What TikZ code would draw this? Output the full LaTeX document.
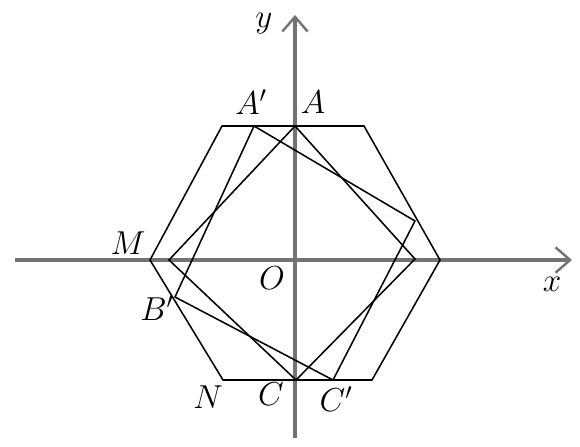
\documentclass[tikz,border=0pt]{standalone}
\usetikzlibrary{arrows.meta}
\begin{document}
\begin{tikzpicture}[x=0.75pt,y=-0.75pt,
  axis/.style={draw=black!55,line width=2.4pt,-{Straight Barb[length=11pt,width=19pt,line width=1.8pt]}},
  edge/.style={draw=black,line width=1.15pt,line join=miter},
  lbl/.style={font=\fontsize{23}{25}\selectfont,inner sep=0pt}]
\useasboundingbox (0,0) rectangle (580,446);
% axis ends
\coordinate (xs) at (15,260);
\coordinate (xe) at (572,260);
\coordinate (ys) at (295,438);
\coordinate (ye) at (295,15);
\draw[axis] (xs) -- (xe);
\draw[axis] (ys) -- (ye);
% hexagon
\coordinate (M) at (150,260);
\coordinate (TL) at (222,126);
\coordinate (TR) at (364,126);
\coordinate (R) at (440,260);
\coordinate (BR) at (372,380);
\coordinate (N) at (223,380);
\draw[edge] (M) -- (TL) -- (TR) -- (R) -- (BR) -- (N) -- cycle;
% square ACLR
\coordinate (A) at (295,126);
\coordinate (Rq) at (415,259);
\coordinate (C) at (296,380);
\coordinate (Lq) at (169,260);
\draw[edge] (A) -- (Rq) -- (C) -- (Lq) -- cycle;
% rotated square
\coordinate (A1) at (254,126);
\coordinate (D1) at (415,221);
\coordinate (C1) at (333,380);
\coordinate (B1) at (175,297);
\draw[edge] (A1) -- (D1) -- (C1) -- (B1) -- cycle;
% labels
\node[lbl] (ly) at (264,24) {$y$};
\node[lbl] (lx) at (552,284) {$x$};
\node[lbl] (lA1) at (251,102) {$A'$};
\node[lbl] (lA) at (313,102) {$A$};
\node[lbl] (lM) at (128,243) {$M$};
\node[lbl] (lO) at (272,278) {$O$};
\node[lbl] (lB1) at (157,308) {$B'$};
\node[lbl] (lN) at (208,397) {$N$};
\node[lbl] (lC) at (271,394) {$C$};
\node[lbl] (lC1) at (336,399) {$C'$};
\end{tikzpicture}
\end{document}
